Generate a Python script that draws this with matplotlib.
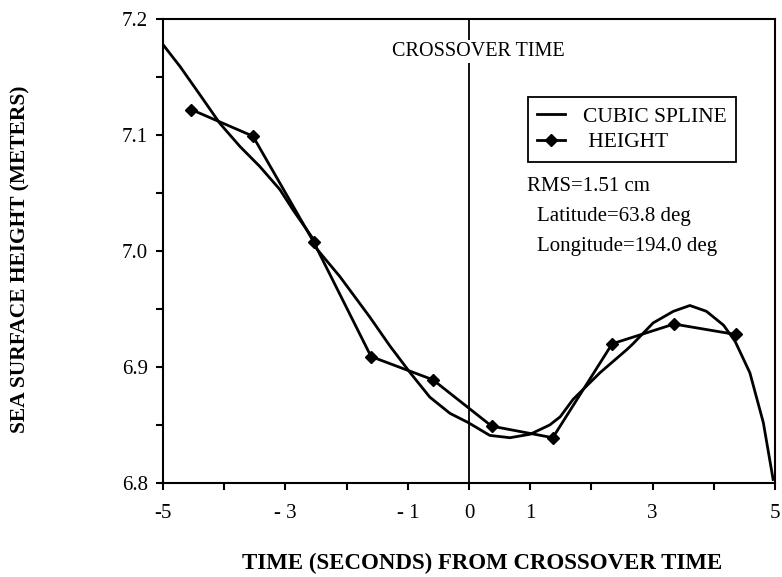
import matplotlib.pyplot as plt

# height samples (seconds from crossover, metres)
height_t = [-4.54, -3.53, -2.54, -1.60, -0.59, 0.37, 1.37, 2.34, 3.35, 4.36]
height_h = [7.122, 7.099, 7.008, 6.909, 6.889, 6.849, 6.839, 6.920, 6.937, 6.928]

# cubic spline curve
spline_t = [-5.00, -4.72, -4.40, -4.07, -3.74, -3.42, -3.09, -2.87, -2.54, -2.49,
            -2.11, -1.62, -1.29, -0.96, -0.64, -0.31, -0.01, 0.34, 0.67, 1.00,
            1.32, 1.49, 1.70, 2.14, 2.58, 2.68, 3.01, 3.34, 3.61, 3.88,
            4.16, 4.35, 4.59, 4.81, 4.97]
spline_h = [7.178, 7.159, 7.135, 7.110, 7.090, 7.073, 7.053, 7.035, 7.010, 7.002,
            6.978, 6.943, 6.918, 6.895, 6.874, 6.860, 6.852, 6.841, 6.839, 6.842,
            6.850, 6.857, 6.872, 6.895, 6.915, 6.920, 6.938, 6.948, 6.953, 6.948,
            6.936, 6.922, 6.895, 6.852, 6.803]

xticks = [-5, -4, -3, -2, -1, 0, 1, 2, 3, 4, 5]
xtick_labels = ["-5", "", "- 3", "", "- 1", "0", "1", "", "3", "", "5"]
yticks = [6.8, 6.9, 7.0, 7.1, 7.2]

plt.rcParams['font.family'] = ['Liberation Serif', 'DejaVu Serif']

fig = plt.figure(figsize=(7.82, 5.77), dpi=100)
ax = fig.add_axes([0.2084, 0.163, 0.7826, 0.804])

ax.plot(spline_t, spline_h, color="black", lw=2.0, label="CUBIC SPLINE")
ax.plot(height_t, height_h, color="black", lw=2.0, marker="D", ms=6,
        label=" HEIGHT")
ax.axvline(0, color="black", lw=1.3)

ax.set_xlim(-5, 5)
ax.set_ylim(6.8, 7.2)
ax.set_xticks(xticks)
ax.set_xticklabels(xtick_labels)
ax.set_yticks(yticks)
ax.set_yticklabels([f"{v:.1f}" for v in yticks])
ax.set_yticks([6.85, 6.95, 7.05, 7.15], minor=True)
ax.tick_params(axis="both", which="both", direction="out", length=5, width=1.5,
               labelsize=15, colors="black")
ax.tick_params(axis="x", pad=10)
ax.tick_params(axis="y", pad=6)
for s in ax.spines.values():
    s.set_linewidth(1.5)

ax.text(0.15, 7.172, "CROSSOVER TIME", ha="center", va="center", fontsize=14.5,
        bbox=dict(facecolor="white", edgecolor="none", pad=1.5))

leg = ax.legend(loc="upper left", bbox_to_anchor=(0.596, 0.832), fontsize=15.5,
                frameon=True, fancybox=False, edgecolor="black", framealpha=1,
                handlelength=1.3, borderpad=0.45, labelspacing=0.25,
                borderaxespad=0)
leg.get_frame().set_linewidth(1.3)

ax.text(0.95, 7.056, "RMS=1.51 cm", ha="left", va="center", fontsize=15)
ax.text(1.11, 7.030, "Latitude=63.8 deg", ha="left", va="center", fontsize=15)
ax.text(1.11, 7.004, "Longitude=194.0 deg", ha="left", va="center", fontsize=15)

fig.text(0.616, 0.006, "TIME (SECONDS) FROM CROSSOVER TIME", ha="center",
         va="bottom", fontsize=16.5, fontweight="bold")
fig.text(0.014, 0.55, "SEA SURFACE HEIGHT (METERS)", ha="left", va="center",
         rotation=90, fontsize=15.5, fontweight="bold")

fig.savefig("out.png", dpi=100)
